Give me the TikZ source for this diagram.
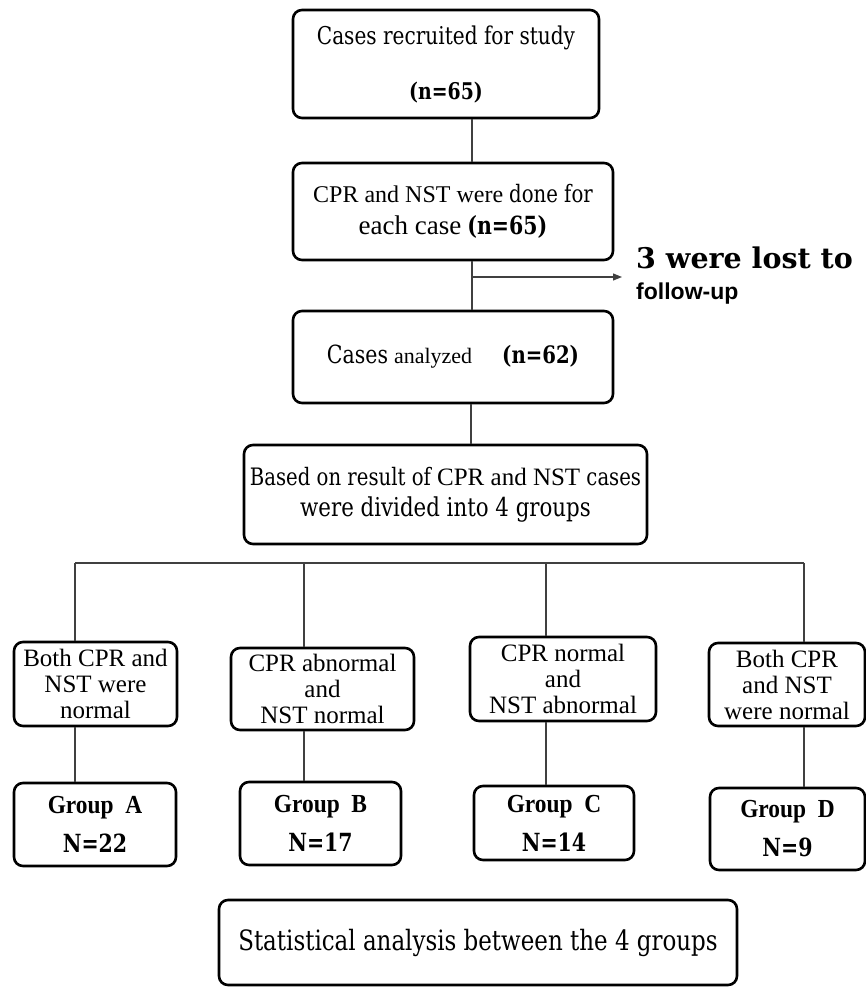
\documentclass[tikz,border=0pt]{standalone}
\usepackage{fontspec}
\setmainfont{Liberation Serif}
\newfontfamily\cb[FakeStretch=0.82]{DejaVu Serif}
\newfontfamily\cbw{DejaVu Serif}
\newfontfamily\tbc[FakeStretch=0.9]{Liberation Serif}
\newfontfamily\nsans{Liberation Sans}
\usetikzlibrary{arrows.meta}
\newcommand\fsz[2]{\fontsize{#1}{#2}\selectfont}
\begin{document}
\begin{tikzpicture}[x=1pt,y=-1pt,
  box/.style={draw=black, line width=2.6pt, rounded corners=9pt, inner sep=0pt, align=center, fill=white},
  link/.style={draw=black!75, line width=1.1pt},
  note/.style={anchor=west, inner sep=0pt},
]
\fill[white] (0,0) rectangle (866,992);
\useasboundingbox (0,0) rectangle (866,992);

% main column
\node[box, minimum width=306, minimum height=108, font=\cb\fsz{24.5}{55}] (b1) at (446,64)
  {\raisebox{-5pt}{Cases recruited for study}\\\raisebox{-5pt}{\bfseries\fsz{23}{55}(n=65)}};
\node[box, minimum width=320, minimum height=97, font=\fsz{24}{32}] (b2) at (453,211.5)
  {CPR and NST were {\cb\fsz{24}{32}done for}\\{\fsz{27}{32}each case} {\cb\bfseries\fsz{25}{32}(n=65)}};
\node[box, minimum width=320, minimum height=92, font=\fsz{24}{28}] (b3) at (453,357)
  {{\cb\fsz{25}{28}Cases} {\fsz{22}{28}analyzed}\quad\ {\cb\bfseries\fsz{24}{28}(n=62)}};
\node[box, minimum width=403, minimum height=99, font=\cb\fsz{24}{31}] (b4) at (445.5,494.5)
  {Based on result of {\rmfamily\fsz{25}{31}CPR and NST} cases\\{\fsz{26}{31}were divided into 4 groups}};

% lost to follow-up
\node[note, font=\cbw\bfseries\fsz{28.5}{29}] (l1) at (636,258) {3 were lost to};
\node[note, font=\nsans\bfseries\fsz{23}{23}] (l2) at (636,294) {follow-up};

% row of criteria
\node[box, minimum width=163, minimum height=84, font=\fsz{25}{26}] (rA) at (95.5,684)
  {Both CPR and\\NST were\\normal};
\node[box, minimum width=183, minimum height=82, font=\fsz{25}{26}] (rB) at (322.5,689)
  {CPR abnormal\\and\\NST normal};
\node[box, minimum width=186, minimum height=84, font=\fsz{25}{26}] (rC) at (563,679)
  {CPR normal\\and\\NST abnormal};
\node[box, minimum width=156, minimum height=83, font=\fsz{25}{26}] (rD) at (787,684.5)
  {Both CPR\\and NST\\were normal};

% groups
\node[box, minimum width=162, minimum height=83, font=\fsz{25}{39}] (gA) at (95,824.5)
  {{\tbc\bfseries\fsz{26}{39}Group\ \ A}\\{\cb\bfseries N=22}};
\node[box, minimum width=161, minimum height=83, font=\fsz{25}{39}] (gB) at (320.5,823.5)
  {{\tbc\bfseries\fsz{26}{39}Group\ \ B}\\{\cb\bfseries N=17}};
\node[box, minimum width=160, minimum height=74, font=\fsz{25}{39}] (gC) at (554,823)
  {{\tbc\bfseries\fsz{26}{39}Group\ \ C}\\{\cb\bfseries N=14}};
\node[box, minimum width=155, minimum height=82, font=\fsz{25}{39}] (gD) at (787.5,829)
  {{\tbc\bfseries\fsz{26}{39}Group\ \ D}\\{\cb\bfseries N=9}};

% statistics
\node[box, minimum width=518, minimum height=85, font=\cb\fsz{28}{30}] (st) at (478,942.5)
  {Statistical analysis between the 4 groups};

% connectors
\coordinate (k1) at (472,0);
\coordinate (k2) at (472,277);
\coordinate (ae) at (622,277);
\coordinate (k3) at (471,0);
\draw[link] (k1 |- b1.south) -- (k1 |- b2.north);
\draw[link] (k2 |- b2.south) -- (k2 |- b3.north);
\draw[link, -{Triangle[length=9pt,width=7pt]}] (k2) -- (ae);
\draw[link] (k3 |- b3.south) -- (k3 |- b4.north);

\coordinate (d1) at (75,563);
\coordinate (d2) at (304,563);
\coordinate (d3) at (546,563);
\coordinate (d4) at (804,563);
\draw[link] (d1) -- (d4);
\draw[link] (d1) -- (d1 |- rA.north);
\draw[link] (d2) -- (d2 |- rB.north);
\draw[link] (d3) -- (d3 |- rC.north);
\draw[link] (d4) -- (d4 |- rD.north);
\draw[link] (d1 |- rA.south) -- (d1 |- gA.north);
\draw[link] (d2 |- rB.south) -- (d2 |- gB.north);
\draw[link] (d3 |- rC.south) -- (d3 |- gC.north);
\draw[link] (d4 |- rD.south) -- (d4 |- gD.north);
\end{tikzpicture}
\end{document}
